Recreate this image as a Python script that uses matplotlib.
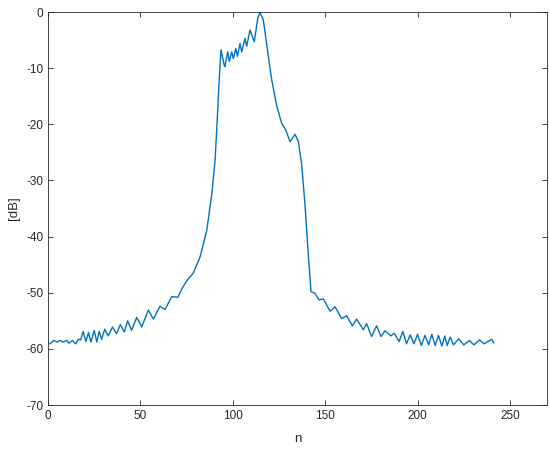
import numpy as np
import matplotlib.pyplot as plt

# points (n, level in dB), split by region
n_left = [1, 3.2, 5, 6.5, 8.3, 10.1, 11.4, 13.2, 15, 16.4, 17.7, 19, 20.5, 21.9,
          23.2, 25, 26.4, 27.7, 29, 30.7, 32.6, 34.9, 37.1, 39.1, 41.3, 43.1, 45.2]
db_left = [-59.1, -58.5, -58.8, -58.5, -58.8, -58.5, -59.0, -58.5, -59.1, -58.3,
           -58.4, -56.9, -58.7, -57.1, -58.8, -56.7, -58.8, -56.9, -58.3, -56.5,
           -57.7, -56.1, -57.3, -55.7, -57.0, -55.0, -56.7]

n_rise = [48, 50.7, 54.3, 57, 60.6, 63.3, 66.9, 70.2, 72.5, 75, 78.6, 82.3, 85.9,
          88.6, 90.4, 91.6, 92.5]
db_rise = [-54.4, -56.1, -53.1, -54.7, -52.4, -53.0, -50.7, -50.8, -49.3, -47.9,
           -46.5, -43.6, -38.9, -32.5, -26.4, -19.0, -13.0]

n_top = [93.6, 95.2, 95.7, 97.2, 98.1, 99.4, 100.3, 101.6, 102.5, 103.9, 104.8,
         106.6, 107.5, 109.3, 111.6, 113.5, 114.7, 116.5]
db_top = [-6.7, -9.3, -9.7, -7.1, -8.8, -7.1, -8.3, -6.5, -7.9, -5.6, -7.1,
          -4.7, -6.1, -3.2, -5.3, -1.1, -0.1, -1.4]

n_fall = [119.2, 121, 123.7, 126.4, 128.6, 131, 133.7, 135.5, 137.3, 139.1,
          140.9, 142.3]
db_fall = [-7.8, -12.0, -16.6, -19.8, -21.0, -23.1, -21.8, -23.1, -27.3, -34.5,
           -43.5, -49.8]

n_right = [144.4, 146.7, 149, 152.6, 155.3, 158.9, 161.6, 164.7, 167, 170.6,
           172.4, 175.1, 177.8, 180.2, 182.4, 185.6, 187.3, 190, 192, 194, 196,
           198, 200, 202, 204, 206, 207.7, 209.5, 211.3, 213.1, 214.7, 216,
           217.6, 219.4, 222.2, 225, 228, 230.5, 233.5, 236, 238.6, 240.1, 241.2]
db_right = [-50.1, -51.3, -51.1, -53.3, -52.5, -54.6, -54.1, -55.9, -54.7, -56.6,
            -55.5, -57.8, -55.9, -57.8, -56.8, -57.7, -57.2, -58.7, -56.9, -59.1,
            -57.5, -59.1, -57.4, -59.4, -57.6, -59.3, -57.4, -59.4, -57.6, -59.5,
            -57.7, -59.4, -57.9, -59.3, -58.2, -59.3, -58.5, -59.3, -58.4, -59.1,
            -58.6, -58.3, -58.9]

n = n_left + n_rise + n_top + n_fall + n_right
db = db_left + db_rise + db_top + db_fall + db_right

plt.rcParams['font.family'] = ['Liberation Sans', 'DejaVu Sans']
plt.rcParams['axes.unicode_minus'] = False

fig = plt.figure(figsize=(5.5, 4.5), dpi=100)
ax = fig.add_axes([0.0873, 0.1, 0.9072, 0.8733])
ax.plot(n, db, color='#0072BD', linewidth=1.0)

ax.set_xlim(0, 270)
ax.set_ylim(-70, 0)
ax.set_xticks([0, 50, 100, 150, 200, 250])
ax.set_yticks([-70, -60, -50, -40, -30, -20, -10, 0])
ax.tick_params(direction='in', top=True, right=True, length=3.5, width=0.6,
               labelsize=8.5, colors='#262626')
for s in ax.spines.values():
    s.set_linewidth(0.6)
    s.set_color('#262626')
ax.set_xlabel('n', fontsize=9.5, color='#262626', labelpad=8)
ax.set_ylabel('[dB]', fontsize=9.5, color='#262626', labelpad=4)

fig.savefig('out.png', dpi=100)
